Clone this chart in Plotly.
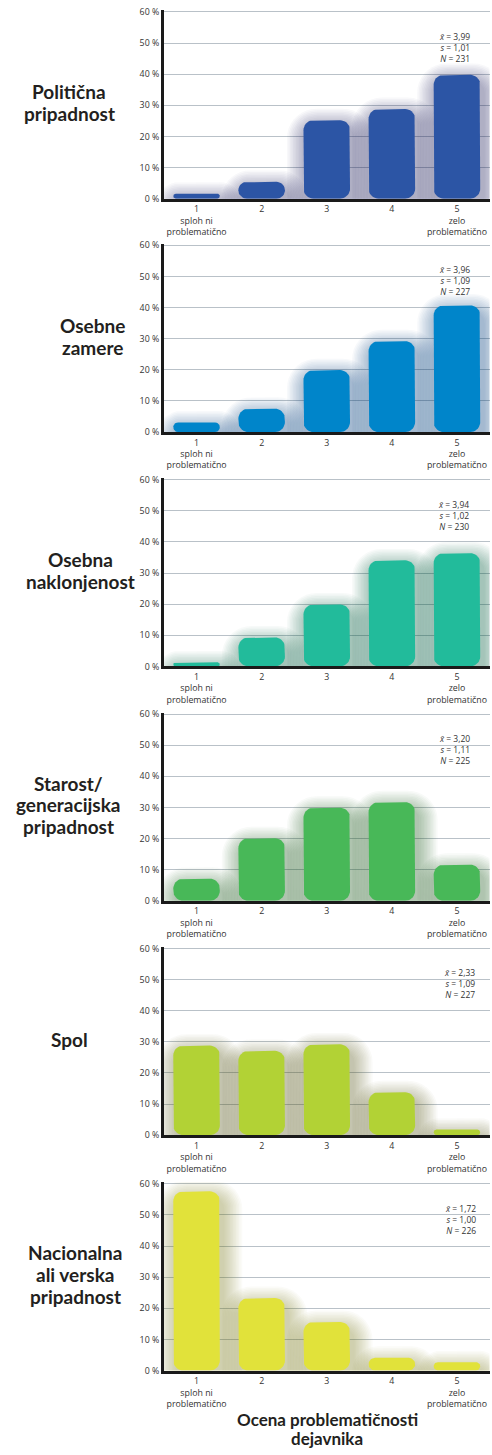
import numpy as np
import plotly.graph_objects as go

# Rating scale (1 = not problematic at all, 5 = very problematic)
categories = [1, 2, 3, 4, 5]
tick_text = ["1<br>sploh ni<br>problematično", "2", "3", "4", "5<br>zelo<br>problematično"]
y_ticks = [0, 10, 20, 30, 40, 50, 60]
y_tick_text = ["0 %", "10 %", "20 %", "30 %", "40 %", "50 %", "60 %"]

factors = [
    ["Politična", "pripadnost"],
    ["Osebne", "zamere"],
    ["Osebna", "naklonjenost"],
    ["Starost/", "generacijska", "pripadnost"],
    ["Spol"],
    ["Nacionalna", "ali verska", "pripadnost"],
]
axis_title = ["Ocena problematičnosti", "dejavnika"]

# Share of respondents (%) per rating
politicna = [1.6, 5.4, 25.2, 28.8, 39.8]
osebne_zamere = [3.1, 7.5, 19.9, 29.2, 40.7]
osebna_naklonjenost = [1.3, 9.3, 19.9, 34.1, 36.4]
starost = [7.1, 20.1, 29.9, 31.7, 11.6]
spol = [28.8, 27.1, 29.2, 13.8, 1.8]
nacionalna = [57.6, 23.3, 15.6, 4.1, 2.7]
series = [politicna, osebne_zamere, osebna_naklonjenost, starost, spol, nacionalna]

means = ["3,99", "3,96", "3,94", "3,20", "2,33", "1,72"]
sds = ["1,01", "1,09", "1,02", "1,11", "1,09", "1,00"]
ns = ["231", "227", "230", "225", "227", "226"]

# Styling
bar_colors = ["#2c55a5", "#0085ca", "#22bb9b", "#48b858", "#b2d235", "#e1e23a"]
shadow_rgb = ["26,45,102", "11,68,112", "15,90,75", "33,89,42", "90,106,22", "114,114,24"]
label_x_px = [69, 92, 80, 68, 69, 75]
stats_x = [5.23, 5.23, 5.22, 5.23, 5.31, 5.32]

W, H = 492, 1455
x_left_px, x_right_px = 164, 489.5
zero_px = [196, 431, 667, 903, 1139, 1376]
px_per_pct = 188 / 60
px_per_cat = (x_right_px - x_left_px) / 5
y_max = 60.5
BAR_W = 0.715
RADIUS_PX = 10
# soft drop shadow: stacked translucent halos, offset down-right (pixels)
SHADOW_STEPS = [1.5, 3, 4.5, 6, 7.5, 9, 10.5, 12, 13.5, 15, 16.5, 18, 19.5]
SHADOW_DX, SHADOW_DY = 3, 8
SHADOW_ALPHA = 0.032
BIG_FONT = "Lato"
SMALL_FONT = "Open Sans"
TXT = "#231f20"


def rounded_rect(x0, x1, y0, y1, r_px):
    """Closed outline of a rectangle (data units) with rounded corners of r_px pixels."""
    w_px = (x1 - x0) * px_per_cat
    h_px = (y1 - y0) * px_per_pct
    r = max(min(r_px, w_px / 2, h_px / 2), 0)
    rx, ry = r / px_per_cat, r / px_per_pct
    corners = [
        (x1 - rx, y0 + ry, -90, 0),
        (x1 - rx, y1 - ry, 0, 90),
        (x0 + rx, y1 - ry, 90, 180),
        (x0 + rx, y0 + ry, 180, 270),
    ]
    xs, ys = [], []
    for cx, cy, a0, a1 in corners:
        t = np.radians(np.linspace(a0, a1, 10))
        xs.extend(cx + rx * np.cos(t))
        ys.extend(cy + ry * np.sin(t))
    xs.append(xs[0])
    ys.append(ys[0])
    return xs, ys


fig = go.Figure()
layout = dict(
    width=W, height=H,
    margin=dict(l=0, r=0, t=0, b=0),
    paper_bgcolor="white", plot_bgcolor="white",
    showlegend=False,
    font=dict(family=SMALL_FONT, color="#333333", size=9),
)
annotations = []


def add_lines(lines, x_px, center_px, spacing, size):
    n = len(lines)
    for k, line in enumerate(lines):
        yc = center_px + (k - (n - 1) / 2) * spacing
        annotations.append(dict(
            xref="paper", yref="paper", x=x_px / W, y=1 - yc / H,
            xanchor="center", yanchor="middle", showarrow=False,
            text="<b>" + line + "</b>",
            font=dict(family=BIG_FONT, size=size, color=TXT),
        ))


for i, vals in enumerate(series):
    s = "" if i == 0 else str(i + 1)
    xa, ya = "x" + s, "y" + s
    y0 = 1 - zero_px[i] / H
    y1 = 1 - (zero_px[i] - y_max * px_per_pct) / H
    hw = BAR_W / 2
    sdx, sdy = SHADOW_DX / px_per_cat, SHADOW_DY / px_per_pct

    # shadow halos first, so the bars sit on top
    for e in SHADOW_STEPS:
        ex, ey = e / px_per_cat, e / px_per_pct
        for xc, v in zip(categories, vals):
            bx, by = rounded_rect(xc - hw - ex + sdx, xc + hw + ex + sdx,
                                  -ey - sdy, v + ey - sdy, RADIUS_PX + e)
            fig.add_trace(go.Scatter(
                x=bx, y=by, mode="lines", fill="toself",
                fillcolor="rgba(" + shadow_rgb[i] + ",%s)" % SHADOW_ALPHA,
                line=dict(width=0, color="rgba(0,0,0,0)"),
                cliponaxis=False, hoverinfo="skip", xaxis=xa, yaxis=ya,
            ))

    for xc, v in zip(categories, vals):
        bx, by = rounded_rect(xc - hw, xc + hw, 0, v, RADIUS_PX)
        fig.add_trace(go.Scatter(
            x=bx, y=by, mode="lines", fill="toself",
            fillcolor=bar_colors[i], line=dict(width=0, color=bar_colors[i]),
            cliponaxis=False, hoverinfo="skip", xaxis=xa, yaxis=ya,
        ))

    layout["xaxis" + s] = dict(
        domain=[x_left_px / W, x_right_px / W], anchor=ya,
        range=[0.5, 5.5], tickvals=categories, ticktext=tick_text,
        showline=True, linewidth=3, linecolor="#1a1a1a",
        showgrid=False, zeroline=False, ticks="",
        tickfont=dict(family=SMALL_FONT, size=8.8, color="#333333"),
    )
    layout["yaxis" + s] = dict(
        domain=[y0, y1], anchor=xa,
        range=[0, y_max], tickvals=y_ticks, ticktext=y_tick_text,
        showline=True, linewidth=3, linecolor="#1a1a1a",
        showgrid=True, gridcolor="#b9c1c8", gridwidth=1.4,
        zeroline=False, ticks="",
        tickfont=dict(family=SMALL_FONT, size=8.8, color="#333333"),
    )

    # factor name on the left, centred on the panel
    panel_center = zero_px[i] - 30 * px_per_pct - 2.5
    add_lines(factors[i], label_x_px[i], panel_center, 22, 19)

    # descriptive statistics
    annotations.append(dict(
        xref=xa, yref=ya, x=stats_x[i], y=48.6,
        xanchor="right", yanchor="middle", align="right", showarrow=False,
        text="<i>x̄</i> = " + means[i] + "<br><i>s</i> = " + sds[i] + "<br><i>N</i> = " + ns[i],
        font=dict(family=SMALL_FONT, size=8.5, color="#333333"),
    ))

add_lines(axis_title, 327, 1435, 18.5, 17)
layout["annotations"] = annotations
fig.update_layout(**layout)

fig.write_html("out.html")
